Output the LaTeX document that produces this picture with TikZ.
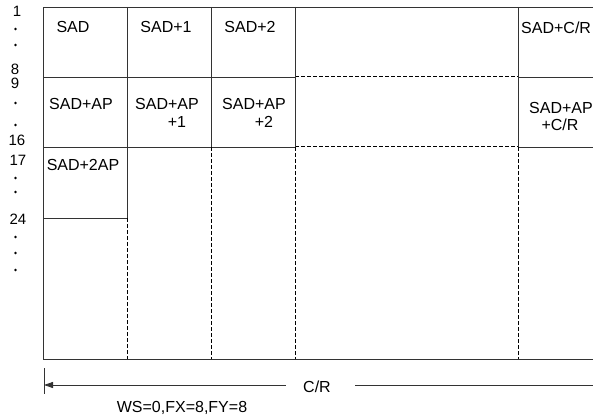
\documentclass[tikz,border=0pt]{standalone}
\usepackage{fontspec}
\setmainfont{Liberation Sans}
\usetikzlibrary{arrows.meta}
\begin{document}
\begin{tikzpicture}[x=1pt,y=-1pt,
  solidline/.style={draw=black!80,line width=0.9pt},
  dashline/.style={draw=black,line width=1.0pt,dash pattern=on 4pt off 2pt},
  txt/.style={inner sep=0pt,anchor=base,font=\fontsize{16}{18}\selectfont},
  lbl/.style={inner sep=0pt,anchor=base,font=\fontsize{15}{17}\selectfont},
  dotmark/.style={fill=black,draw=none}]
\useasboundingbox (0,0) rectangle (593,419);
% outer lines
\draw[solidline] (593,7) -- (43,7) -- (43,359) -- (593,359);
% horizontal lines
\draw[solidline] (43,77) -- (295,77);
\draw[dashline] (295,77) -- (518,77);
\draw[solidline] (518,77) -- (593,77);
\draw[solidline] (43,147) -- (295,147);
\draw[dashline] (295,147) -- (518,147);
\draw[solidline] (518,147) -- (593,147);
\draw[solidline] (43,218) -- (127,218);
% vertical lines
\draw[solidline] (127,7) -- (127,218);
\draw[dashline] (127,218) -- (127,359);
\draw[solidline] (211,7) -- (211,147);
\draw[dashline] (211,147) -- (211,359);
\draw[solidline] (295,7) -- (295,147);
\draw[dashline] (295,147) -- (295,359);
\draw[solidline] (518,7) -- (518,147);
\draw[dashline] (518,147) -- (518,359);
% cell texts
\node[txt] (c11) at (73,33) {SAD};
\node[txt] (c12) at (166,33) {SAD+1};
\node[txt] (c13) at (250,33) {SAD+2};
\node[txt,anchor=base west] (c14) at (521,34) {SAD+C/R};
\node[txt] (c21) at (81,110) {SAD+AP};
\node[txt] (c22) at (167,110) {SAD+AP};
\node[txt] (c22b) at (177,128) {+1};
\node[txt] (c23) at (254,110) {SAD+AP};
\node[txt] (c23b) at (264,128) {+2};
\node[txt] (c24) at (561,114) {SAD+AP};
\node[txt] (c24b) at (560,131) {+C/R};
\node[txt] (c31) at (83,171) {SAD+2AP};
% row labels
\node[lbl] (r1) at (17,17) {1};
\node[lbl] (r8) at (15,75) {8};
\node[lbl] (r9) at (15,89) {9};
\node[lbl] (r16) at (17,146) {16};
\node[lbl] (r17) at (18,166) {17};
\node[lbl] (r24) at (18,225) {24};
\foreach \yy in {29,45,103,125,178,192,237,253,270}
  \fill[dotmark] (15.5,\yy) circle (1.3);
% dimension arrow
\coordinate (tt) at (44,368);
\coordinate (tb) at (44,394);
\draw[solidline] (tt) -- (tb);
\node[txt] (cr) at (317,392) {C/R};
\coordinate (al) at (44,385);
\coordinate (ae) at (286,385);
\coordinate (bs) at (355,385);
\coordinate (be) at (593,385);
\draw[solidline,{Triangle[length=9pt,width=6pt]}-] (al) -- (ae);
\draw[solidline] (bs) -- (be);
\node[txt] (ws) at (182,412) {WS=0,FX=8,FY=8};
\end{tikzpicture}
\end{document}
